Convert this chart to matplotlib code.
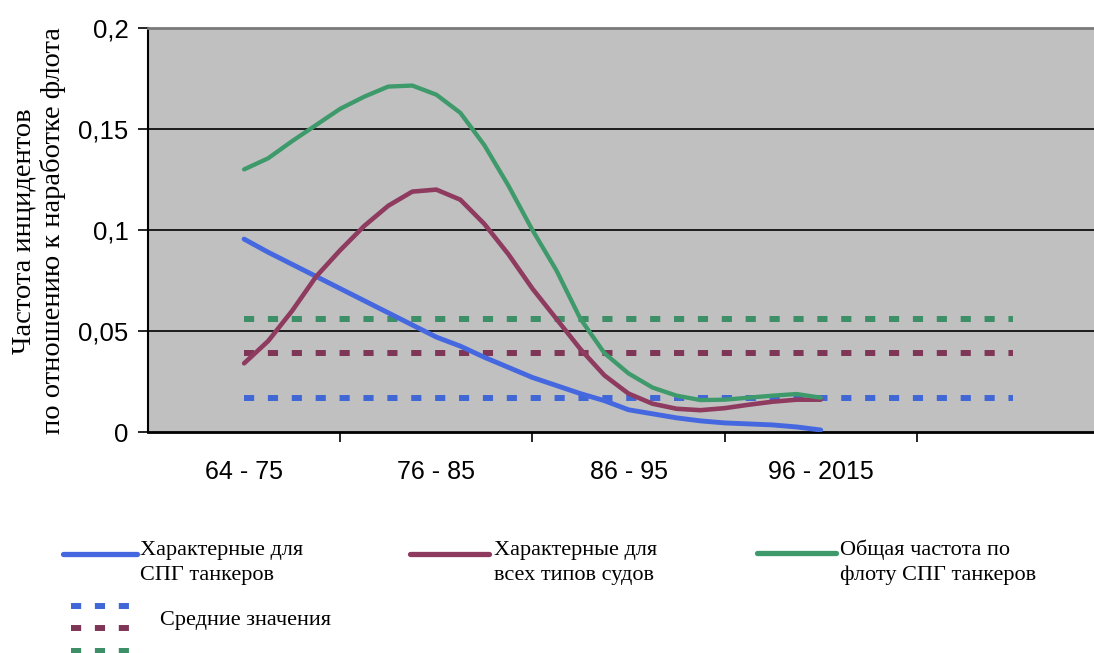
import numpy as np
import matplotlib.pyplot as plt
from matplotlib.lines import Line2D

# x tick labels (5th slot is empty)
periods = ["64 - 75", "76 - 85", "86 - 95", "96 - 2015", ""]

# readings along the curves, every 1/8 of a category from "64 - 75" to "96 - 2015"
x_read = np.linspace(0, 3, 25)

lng_specific = [0.0955, 0.089, 0.083, 0.077, 0.071, 0.065, 0.059, 0.053, 0.047,
                0.0425, 0.037, 0.032, 0.027, 0.023, 0.019, 0.0155, 0.011, 0.009,
                0.007, 0.0055, 0.0045, 0.004, 0.0035, 0.0025, 0.001]
all_ships = [0.034, 0.045, 0.060, 0.077, 0.090, 0.102, 0.112, 0.119, 0.120,
             0.115, 0.103, 0.088, 0.071, 0.056, 0.041, 0.028, 0.019, 0.014,
             0.0115, 0.0108, 0.0118, 0.0135, 0.015, 0.016, 0.016]
total_lng = [0.130, 0.1355, 0.144, 0.152, 0.160, 0.166, 0.171, 0.1715, 0.167,
             0.158, 0.142, 0.122, 0.100, 0.080, 0.056, 0.039, 0.029, 0.022,
             0.018, 0.0158, 0.016, 0.017, 0.018, 0.0188, 0.017]

# mean values (dotted)
mean_lng = [0.017, 0.017, 0.017, 0.017, 0.017]
mean_all = [0.039, 0.039, 0.039, 0.039, 0.039]
mean_total = [0.056, 0.056, 0.056, 0.056, 0.056]

yticks = [0, 0.05, 0.1, 0.15, 0.2]
ytick_labels = ["0", "0,05", "0,1", "0,15", "0,2"]

BLUE = "#4568e0"
RED = "#8e3b5f"
GREEN = "#3e9a6b"
BLUE_D = "#4167d6"
RED_D = "#7f3656"
GREEN_D = "#3c8f66"

W, H = 1094, 653


def fx(x):
    return x / W


def fy(y):
    return 1 - y / H


plt.rcParams['font.family'] = "Liberation Sans"

fig = plt.figure(figsize=(W / 100, H / 100), dpi=100)
fig.patch.set_facecolor("white")

ax = fig.add_axes([fx(148), fy(432), (1109 - 148) / W, 404 / H])
ax.set_facecolor("#c0c0c0")
ax.set_xlim(-0.5, 4.5)
ax.set_ylim(0, 0.2)

for yv in yticks[1:-1]:
    ax.axhline(yv, color="black", lw=1.2, zorder=1)

dash = (0, (1.7, 2.3))
xcat = np.arange(len(periods))
ax.plot(xcat, mean_total, color=GREEN_D, lw=4.3, ls=dash, zorder=2)
ax.plot(xcat, mean_all, color=RED_D, lw=4.3, ls=dash, zorder=2)
ax.plot(xcat, mean_lng, color=BLUE_D, lw=4.3, ls=dash, zorder=2)

ax.plot(x_read, lng_specific, color=BLUE, lw=3.5, solid_capstyle="round",
        solid_joinstyle="round", zorder=3)
ax.plot(x_read, all_ships, color=RED, lw=3.3, solid_capstyle="round",
        solid_joinstyle="round", zorder=3)
ax.plot(x_read, total_lng, color=GREEN, lw=3.1, solid_capstyle="round",
        solid_joinstyle="round", zorder=3)

ax.set_yticks(yticks)
ax.set_yticklabels(ytick_labels)
ax.tick_params(axis="y", direction="out", length=7, width=1.2, pad=7,
               labelsize=18.5, colors="black")

# category boundaries get the tick marks, labels sit at the centers
ax.set_xticks(np.arange(len(periods)) + 0.5)
ax.set_xticklabels([])
ax.set_xticks(xcat, minor=True)
ax.set_xticklabels(periods, minor=True)
ax.tick_params(axis="x", which="major", direction="out", length=7, width=1.2)
ax.tick_params(axis="x", which="minor", length=0, pad=20, labelsize=18)

ax.spines["top"].set_color("#7a7a7a")
ax.spines["top"].set_linewidth(2)
ax.spines["right"].set_visible(False)
ax.spines["left"].set_linewidth(1.5)
ax.spines["bottom"].set_linewidth(2)

fig.text(fx(39), fy(231), "Частота инцидентов\nпо отношению к наработке флота",
         rotation=90, ha="center", va="center", multialignment="center",
         family="Liberation Serif", fontsize=20.5, linespacing=1.15)

# legend drawn by hand
serif = dict(family="Liberation Serif", fontsize=16, va="center", ha="left")
legend_rows = [
    (63, 137, 554, BLUE, 140, "Характерные для\nСПГ танкеров"),
    (410, 489, 554, RED, 494, "Характерные для\nвсех типов судов"),
    (757, 836, 553, GREEN, 840, "Общая частота по\nфлоту СПГ танкеров"),
]
for x0, x1, yl, col, xt, txt in legend_rows:
    fig.add_artist(Line2D([fx(x0), fx(x1)], [fy(yl), fy(yl)], color=col, lw=3.8,
                          solid_capstyle="round", transform=fig.transFigure))
    fig.text(fx(xt), fy(yl + 9), txt, linespacing=1.4, **serif)

for yl, col in [(606, BLUE_D), (628, RED_D), (651, GREEN_D)]:
    fig.add_artist(Line2D([fx(71), fx(131)], [fy(yl), fy(yl)], color=col, lw=4.3,
                          ls=dash, transform=fig.transFigure))
fig.text(fx(160), fy(620), "Средние значения", **serif)

fig.savefig("out.png", dpi=100)
